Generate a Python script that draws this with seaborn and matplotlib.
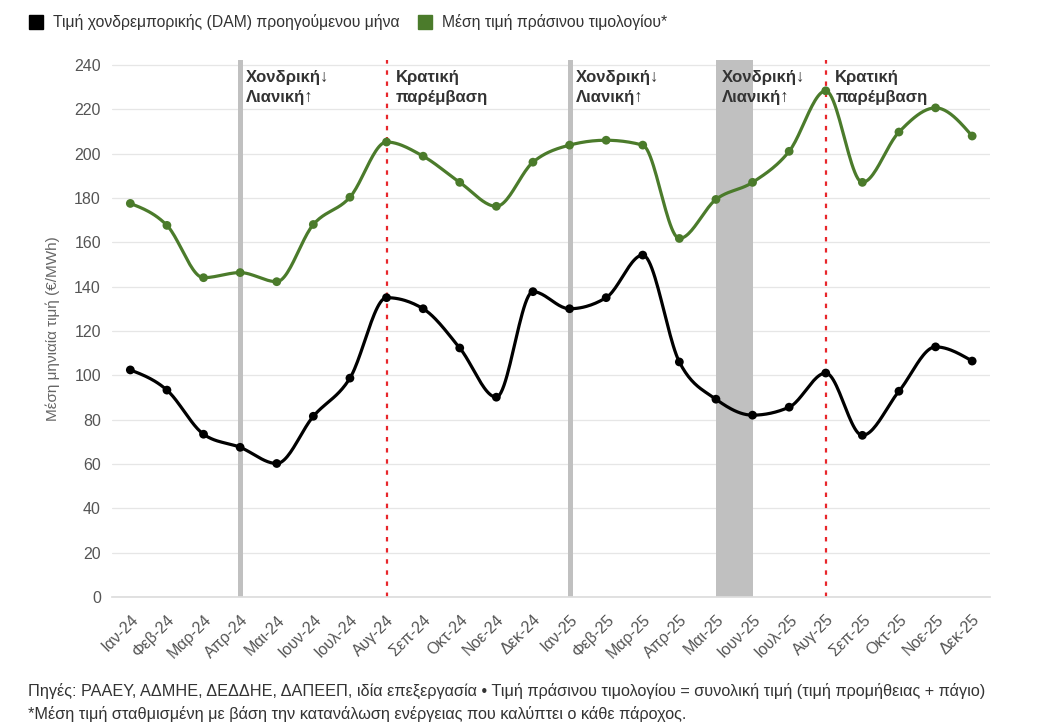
import numpy as np
import pandas as pd
import matplotlib.pyplot as plt
import seaborn as sns
from matplotlib.lines import Line2D

#Data
months = ['Ιαν-24', 'Φεβ-24', 'Μαρ-24', 'Απρ-24', 'Μαι-24', 'Ιουν-24', 'Ιουλ-24', 'Αυγ-24',
          'Σεπ-24', 'Οκτ-24', 'Νοε-24', 'Δεκ-24', 'Ιαν-25', 'Φεβ-25', 'Μαρ-25', 'Απρ-25',
          'Μαι-25', 'Ιουν-25', 'Ιουλ-25', 'Αυγ-25', 'Σεπ-25', 'Οκτ-25', 'Νοε-25', 'Δεκ-25']
wholesale = [102.4, 93.3, 73.4, 67.5, 60.2, 81.5, 98.7, 135.0, 130.0, 112.3, 90.1, 137.7,
             130.0, 135.0, 154.2, 106.0, 89.2, 82.0, 85.6, 101.0, 72.9, 92.8, 112.8, 106.4]
green = [177.5, 167.6, 144.0, 146.3, 142.2, 168.0, 180.3, 205.2, 198.8, 187.0, 176.2, 196.1,
         203.8, 206.0, 203.8, 161.7, 179.3, 187.0, 201.0, 228.3, 187.0, 209.7, 220.6, 207.9]

#Events: gray lines, red dotted lines, gray band
gray_events = ['Απρ-24', 'Ιαν-25']
red_events = ['Αυγ-24', 'Αυγ-25']
band_event = ('Μαι-25', 'Ιουν-25')
label_wr = 'Χονδρική↓\nΛιανική↑'
label_gov = 'Κρατική\nπαρέμβαση'

name_w = 'Τιμή χονδρεμπορικής (DAM) προηγούμενου μήνα'
name_g = 'Μέση τιμή πράσινου τιμολογίου*'
col_w = '#000000'
col_g = '#4b7b2b'


def monotone_curve(y, n=24):
    #monotone cubic (like d3 curveMonotoneX) between points
    y = np.asarray(y, dtype=float)
    x = np.arange(len(y), dtype=float)
    s = np.diff(y)
    m = np.zeros(len(y))
    for i in range(1, len(y) - 1):
        s0, s1 = s[i - 1], s[i]
        p = (s0 + s1) / 2
        m[i] = (np.sign(s0) + np.sign(s1)) * min(abs(s0), abs(s1), 0.5 * abs(p))
    m[0] = (3 * s[0] - m[1]) / 2
    m[-1] = (3 * s[-1] - m[-2]) / 2
    xs, ys = [], []
    for i in range(len(y) - 1):
        t = np.linspace(0, 1, n, endpoint=False)
        h00 = 2 * t**3 - 3 * t**2 + 1
        h10 = t**3 - 2 * t**2 + t
        h01 = -2 * t**3 + 3 * t**2
        h11 = t**3 - t**2
        xs.extend(x[i] + t)
        ys.extend(h00 * y[i] + h10 * m[i] + h01 * y[i + 1] + h11 * m[i + 1])
    xs.append(x[-1])
    ys.append(y[-1])
    return np.array(xs), np.array(ys)


sns.set_theme(style='white')
plt.rcParams['font.family'] = ['Liberation Sans', 'DejaVu Sans']

fig = plt.figure(figsize=(10.47, 7.28), dpi=100)
ax = fig.add_axes([0.107, 0.18, 0.839, 0.737])

idx = {m: i for i, m in enumerate(months)}

#event markers
ax.axvspan(idx[band_event[0]], idx[band_event[1]], color='#c0c0c0', lw=0, zorder=1)
for m in gray_events:
    ax.axvline(idx[m], color='#c0c0c0', lw=3.6, zorder=1)
for m in red_events:
    ax.axvline(idx[m], color='#e8262b', lw=1.6, ls=(0, (2, 3)), zorder=1)

for m in gray_events + [band_event[0]]:
    ax.text(idx[m] + 0.17, 237.5, label_wr, fontsize=12, fontweight='bold', color='#333333',
            va='top', ha='left', linespacing=1.35, zorder=5)
for m in red_events:
    ax.text(idx[m] + 0.26, 237.5, label_gov, fontsize=12, fontweight='bold', color='#333333',
            va='top', ha='left', linespacing=1.35, zorder=5)

#smooth lines
for vals, col in [(wholesale, col_w), (green, col_g)]:
    xs, ys = monotone_curve(vals)
    curve = pd.DataFrame({'x': xs, 'y': ys})
    sns.lineplot(data=curve, x='x', y='y', color=col, lw=2.3, sort=False,
                 estimator=None, ax=ax, zorder=3)
    pts = pd.DataFrame({'x': np.arange(len(vals)), 'y': vals})
    sns.scatterplot(data=pts, x='x', y='y', color=col, s=40, edgecolor='none',
                    ax=ax, zorder=4)

ax.set_xlim(-0.5, 23.5)
ax.set_ylim(0, 242)
ax.set_yticks(range(0, 241, 20))
ax.set_xticks(range(len(months)))
ax.set_xticklabels(months, rotation=45, ha='right', rotation_mode='anchor',
                   fontsize=11.5, color='#555555')
ax.tick_params(axis='x', length=5, color='#dddddd', pad=6)
ax.tick_params(axis='y', length=0, labelsize=11.5, labelcolor='#555555', pad=8)
ax.grid(axis='y', color='#e6e6e6', lw=0.9)
ax.set_axisbelow(True)
for side in ['top', 'right', 'left']:
    ax.spines[side].set_visible(False)
ax.spines['bottom'].set_color('#dddddd')
ax.set_xlabel('')
ax.set_ylabel('Μέση μηνιαία τιμή (€/MWh)', fontsize=11, color='#666666', labelpad=10)

#legend at top
handles = [Line2D([], [], marker='s', ls='', color=col_w, markersize=10),
           Line2D([], [], marker='s', ls='', color=col_g, markersize=10)]
fig.legend(handles, [name_w, name_g], loc='upper left', bbox_to_anchor=(0.006, 1.0),
           ncol=2, frameon=False, fontsize=11.3, handletextpad=0.1, columnspacing=0.6,
           labelcolor='#333333')

#footer
fig.text(0.027, 0.051, 'Πηγές: ΡΑΑΕΥ, ΑΔΜΗΕ, ΔΕΔΔΗΕ, ΔΑΠΕΕΠ, ιδία επεξεργασία • Τιμή πράσινου τιμολογίου = συνολική τιμή (τιμή προμήθειας + πάγιο)',
         fontsize=11.7, color='#333333', va='center')
fig.text(0.027, 0.019, '*Μέση τιμή σταθμισμένη με βάση την κατανάλωση ενέργειας που καλύπτει ο κάθε πάροχος.',
         fontsize=11.7, color='#333333', va='center')

fig.savefig('out.png', dpi=100)
